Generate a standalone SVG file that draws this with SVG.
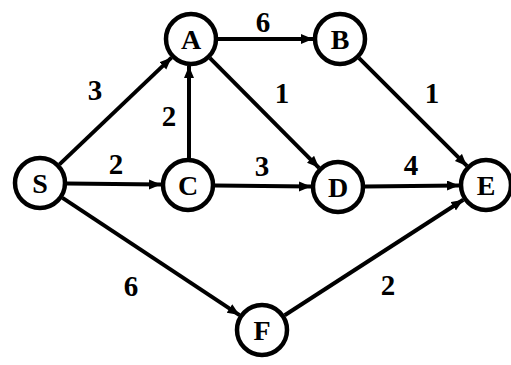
<svg xmlns="http://www.w3.org/2000/svg" width="511" height="365" viewBox="0 0 511 365">
<style>
.node circle{fill:#fff;stroke:#000;stroke-width:4.5}
.node text{font-family:"Liberation Serif",serif;font-weight:bold;font-size:28px;text-anchor:middle;fill:#000}
.edges line{stroke:#000;stroke-width:4;fill:none}
.lbl{font-family:"Liberation Serif",serif;font-weight:bold;font-size:29px;text-anchor:middle;fill:#000}
</style>
<defs>
<marker id="arr" markerUnits="userSpaceOnUse" markerWidth="14" markerHeight="12" refX="12" refY="5" orient="auto">
<path d="M0,0 L12,5 L0,10 z" fill="#000"/>
</marker>
</defs>
<rect width="511" height="365" fill="#fff"/>
<g id="connectors" class="edges">
<line x1="59.5" y1="164.4" x2="171.5" y2="57.6" marker-end="url(#arr)"/>
<line x1="218" y1="39" x2="313" y2="39" marker-end="url(#arr)"/>
<line x1="189" y1="158" x2="189" y2="66" marker-end="url(#arr)"/>
<line x1="210" y1="58.2" x2="319" y2="167.8" marker-end="url(#arr)"/>
<line x1="359.1" y1="58.1" x2="466.9" y2="165.9" marker-end="url(#arr)"/>
<line x1="67" y1="183.4" x2="161" y2="184.6" marker-end="url(#arr)"/>
<line x1="215" y1="185.4" x2="311" y2="186.6" marker-end="url(#arr)"/>
<line x1="365" y1="186.6" x2="459" y2="185.4" marker-end="url(#arr)"/>
<line x1="62.5" y1="197.9" x2="239.5" y2="315.1" marker-end="url(#arr)"/>
<line x1="284.7" y1="315.3" x2="463.3" y2="199.7" marker-end="url(#arr)"/>
</g>
<g id="labels">
<text class="lbl" x="263" y="32">6</text>
<text class="lbl" x="95" y="100">3</text>
<text class="lbl" x="282" y="103">1</text>
<text class="lbl" x="432" y="103">1</text>
<text class="lbl" x="169" y="126">2</text>
<text class="lbl" x="116" y="174">2</text>
<text class="lbl" x="262" y="176">3</text>
<text class="lbl" x="411" y="175">4</text>
<text class="lbl" x="131" y="296">6</text>
<text class="lbl" x="388" y="295">2</text>
</g>
<g id="node-A" class="node"><circle cx="191" cy="39" r="25"/><text x="191" y="49">A</text></g>
<g id="node-B" class="node"><circle cx="340" cy="39" r="25"/><text x="340" y="49">B</text></g>
<g id="node-S" class="node"><circle cx="40" cy="183" r="25"/><text x="40" y="193">S</text></g>
<g id="node-C" class="node"><circle cx="188" cy="185" r="25"/><text x="188" y="195">C</text></g>
<g id="node-D" class="node"><circle cx="338" cy="187" r="25"/><text x="338" y="197">D</text></g>
<g id="node-E" class="node"><circle cx="486" cy="185" r="25"/><text x="486" y="195">E</text></g>
<g id="node-F" class="node"><circle cx="262" cy="330" r="25"/><text x="262" y="340">F</text></g>
</svg>
